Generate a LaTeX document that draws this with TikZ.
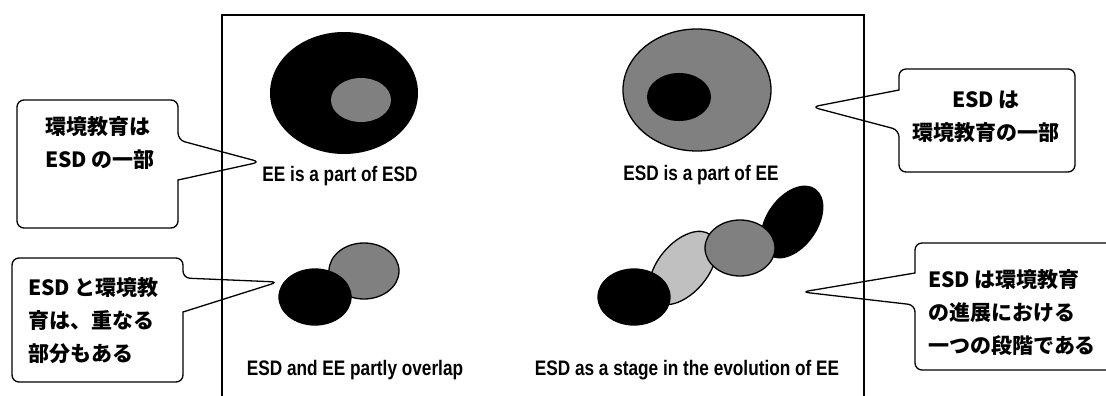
\documentclass[tikz,border=0pt]{standalone}
\usepackage{fontspec}
\newfontfamily\jpfont{Noto Sans CJK JP}
\newfontfamily\capfont{Liberation Sans}[FakeStretch=0.82]
\definecolor{midgray}{RGB}{128,128,128}
\definecolor{palegray}{RGB}{192,192,192}
\begin{document}
\begin{tikzpicture}[x=1pt,y=-1pt,
  callout/.style={draw=black,fill=white,line width=1.3pt,rounded corners=7pt},
  frameline/.style={draw=black,line width=1.6pt},
  jptext/.style={font=\jpfont\bfseries\fontsize{21}{33}\selectfont,inner sep=0pt},
  caption/.style={font=\capfont\bfseries\fontsize{21}{24}\selectfont,inner sep=0pt},
  outline/.style={draw=black,line width=1.3pt}]
\clip (0,0) rectangle (1106,396);
\fill[white] (0,0) rectangle (1106,396);

% speech balloons
\draw[callout] (100,100) -- (178,100) -- (178,140) -- (260,162) [sharp corners]
  -- (178,180) [rounded corners=7pt] -- (178,228) -- (17,228) -- (17,100) -- cycle;
\draw[callout] (990,69) -- (1075,69) -- (1075,172) -- (899,172) -- (899,130)
  -- (812,107) [sharp corners] -- (899,90) [rounded corners=7pt] -- (899,69) -- cycle;
\draw[callout] (100,258) -- (183,258) -- (183,278) -- (278,282) [sharp corners]
  -- (183,312) [rounded corners=7pt] -- (183,382) -- (12,382) -- (12,258) -- cycle;
\draw[callout] (1000,243) -- (1120,243) -- (1120,370) -- (915,370) -- (915,305)
  -- (802,292) [sharp corners] -- (915,273) [rounded corners=7pt] -- (915,243) -- cycle;

\node[jptext,anchor=west,align=left] (t1) at (45,143) {環境教育は\\ESD の一部};
\node[jptext,align=center] (t2) at (986,117) {ESD は\\環境教育の一部};
\node[jptext,anchor=west,align=left] (t3) at (28,321) {ESD と環境教\\育は、重なる\\部分もある};
\node[jptext,anchor=west,align=left] (t4) at (928,313) {ESD は環境教育\\の進展における\\一つの段階である};

% EE inside ESD
\fill[black] (344,93) ellipse [x radius=74, y radius=61];
\fill[midgray] (361,100) ellipse [x radius=30, y radius=22];
% ESD inside EE
\draw[outline,fill=midgray] (697,90) ellipse [x radius=74, y radius=61];
\fill[black] (679,97) ellipse [x radius=32, y radius=24];
% partial overlap
\draw[outline,fill=midgray] (364,271) ellipse [x radius=35, y radius=28];
\draw[outline,fill=black] (315,297) ellipse [x radius=36, y radius=28];
% evolution chain
\draw[outline,fill=black,rotate around={55:(792,222)}] (792,222) ellipse [x radius=40, y radius=25];
\draw[outline,fill=palegray,rotate around={50:(683,268)}] (683,268) ellipse [x radius=43, y radius=25];
\draw[outline,fill=midgray] (740,248) ellipse [x radius=35, y radius=28];
\draw[outline,fill=black] (634,297) ellipse [x radius=36, y radius=28];

\node[caption] (c1) at (340,176) {EE is a part of ESD};
\node[caption] (c2) at (701,175) {ESD is a part of EE};
\node[caption] (c3) at (355,370) {ESD and EE partly overlap};
\node[caption] (c4) at (687,370) {ESD as a stage in the evolution of EE};

% open-bottomed frame
\draw[frameline] (222,400) -- (222,15) -- (864,15) -- (864,400);
\end{tikzpicture}
\end{document}
